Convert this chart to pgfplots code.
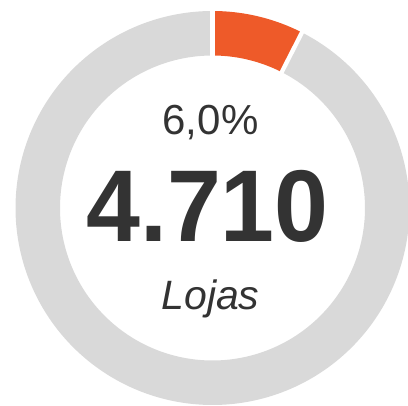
\documentclass[border=0pt]{standalone}
\usepackage{pgfplots}
\pgfplotsset{compat=1.18}
\usepgfplotslibrary{polar}
\usepackage{fontspec}
\setmainfont{Liberation Sans}
\definecolor{ringgrey}{HTML}{D9D9D9}
\definecolor{slice}{HTML}{EE5A29}
\definecolor{txt}{HTML}{333333}
\begin{document}
\begin{tikzpicture}
\begin{polaraxis}[
  hide axis, scale only axis, width=395pt, height=395pt,
  xmin=0, xmax=360, ymin=0, ymax=197.5,
  anchor=center, at={(0pt,0pt)}, clip=false]
% ring: share of the highlighted slice ~7.5% of the circle (from 90 deg clockwise)
\addplot[ringgrey, line width=44.5pt, domain=-270:63, samples=240] {174.75};
\addplot[slice, line width=44.5pt, domain=63:90, samples=40] {174.75};
\addplot[white, line width=4.3pt] coordinates {(90,148) (90,201)};
\addplot[white, line width=4.3pt] coordinates {(63,148) (63,201)};
\end{polaraxis}
\node[anchor=base, inner sep=0pt, text=txt, font=\fontsize{42}{42}\selectfont] at (-2pt,73pt) {6,0\%};
\node[anchor=base, inner sep=0pt, text=txt, xscale=0.95, font=\fontsize{102}{102}\selectfont\bfseries] at (-5pt,-34pt) {4.710};
\node[anchor=base, inner sep=0pt, text=txt, font=\fontsize{41}{41}\selectfont\itshape] at (-2pt,-102pt) {Lojas};
\pgfresetboundingbox
\path[use as bounding box] (-212.5pt,-198pt) rectangle (195.5pt,208pt);
\end{tikzpicture}
\end{document}
